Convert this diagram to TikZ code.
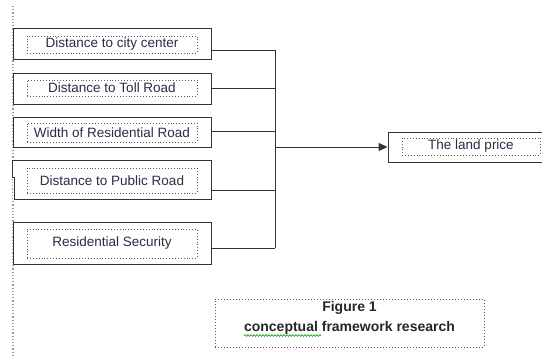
\documentclass[tikz,border=0pt]{standalone}
\usepackage{fontspec}
\setmainfont{Liberation Sans}
\usetikzlibrary{arrows.meta,decorations.pathmorphing}
\definecolor{txt}{rgb}{0.17,0.18,0.27}
\begin{document}
\begin{tikzpicture}[x=1pt,y=-1pt,
  outer/.style={draw=black!80, line width=0.9pt, inner sep=0pt},
  innerbox/.style={draw=black!65, dotted, line width=0.9pt, inner sep=0pt,
    font=\fontsize{13.5}{16}\selectfont, text=txt},
  conn/.style={draw=black!80, line width=0.9pt}]
\useasboundingbox (0,0) rectangle (542,356);
% page margin line
\draw[black!40, dotted, line width=1.2pt] (13,6) -- (13,356);
% factor boxes
\node[outer, fill=white, minimum width=198pt, minimum height=31pt] (b1) at (112,43.5) {};
\node[innerbox, minimum width=170pt, minimum height=17pt] (i1) at (112,44.5) {Distance to city center};
\node[outer, fill=white, minimum width=198pt, minimum height=31pt] (b2) at (112,88.5) {};
\node[innerbox, minimum width=170pt, minimum height=16pt] (i2) at (112,88) {Distance to Toll Road};
\node[outer, fill=white, minimum width=198pt, minimum height=30pt] (b3) at (112,132) {};
\node[innerbox, minimum width=170pt, minimum height=19pt] (i3) at (112,132.5) {Width of Residential Road};
\node[inner sep=0pt, fill=white, minimum width=198pt, minimum height=38pt] (b4) at (112,180) {};
\draw[black!80, line width=0.9pt] (b4.south west) ++(2pt,0) -- (b4.south east) -- (b4.north east)
  -- (b4.north west) -- ++(0,-17pt) -- ++(2pt,0) -- cycle;
\node[innerbox, minimum width=170pt, minimum height=25pt] (i4) at (112,180.5) {Distance to Public Road};
\node[outer, fill=white, minimum width=198pt, minimum height=42pt] (b5) at (112,243) {};
\node[innerbox, minimum width=170pt, minimum height=29pt] (i5) at (112,243.5) {Residential Security};
% result box
\node[outer, fill=white, minimum width=160pt, minimum height=30pt] (lp) at (468,147) {};
\node[innerbox, minimum width=138pt, minimum height=17pt] (ilp) at (471,146.5) {The land price};
% bus junctions
\coordinate (j1) at (275,50);
\coordinate (j2) at (275,88);
\coordinate (j3) at (275,131);
\coordinate (j4) at (275,190);
\coordinate (j5) at (275,248);
\coordinate (jm) at (275,147);
\draw[conn] (b1.east |- j1) -- (j1);
\draw[conn] (b2.east |- j2) -- (j2);
\draw[conn] (b3.east |- j3) -- (j3);
\draw[conn] (b4.east |- j4) -- (j4);
\draw[conn] (b5.east |- j5) -- (j5);
\draw[conn] (j1) -- (j5);
\draw[conn, -{Triangle[length=9pt,width=8pt]}] (jm) -- (lp.west);
% caption
\node[draw=black!65, dotted, line width=1pt, minimum width=269pt, minimum height=48pt] (fig) at (349.5,323) {};
\node[align=center, font=\bfseries\fontsize{14}{20}\selectfont, text=black!85] (figtext) at (349.5,318)
  {Figure 1\\conceptual framework research};
\coordinate (w1) at (244,335.5);
\coordinate (w2) at (321,335.5);
\draw[green!60!black, line width=0.6pt, decorate,
  decoration={snake, amplitude=0.9pt, segment length=3pt}] (w1) -- (w2);
\end{tikzpicture}
\end{document}
